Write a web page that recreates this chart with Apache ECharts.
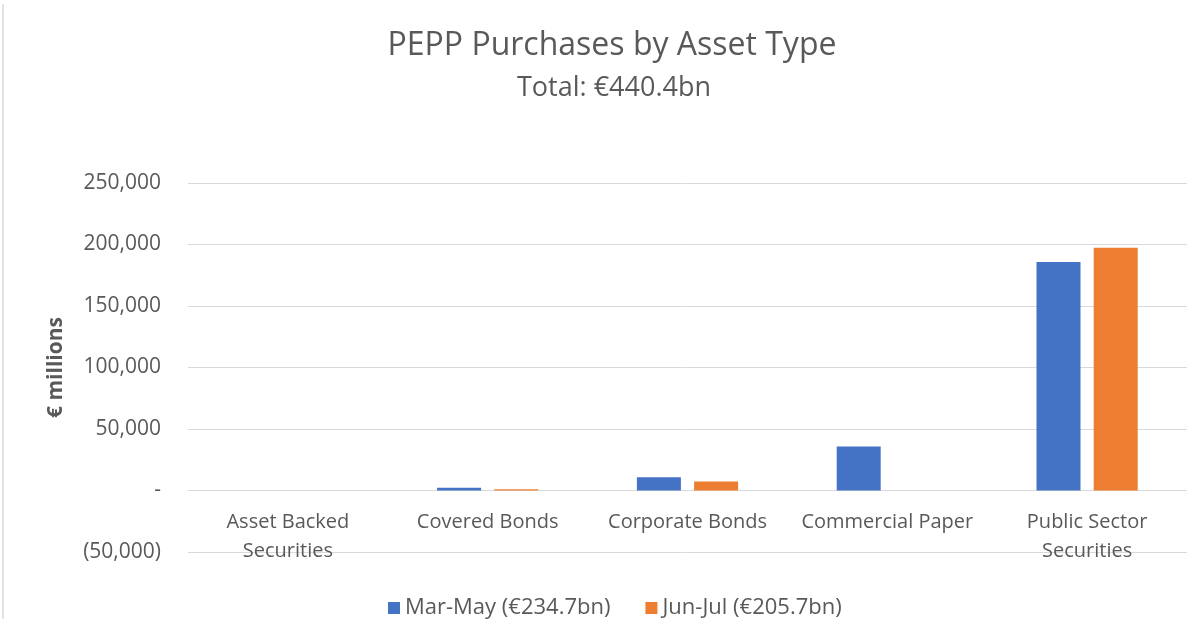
<!DOCTYPE html>
<html>
<head>
<meta charset="utf-8">
<script src="https://cdn.jsdelivr.net/npm/echarts@6/dist/echarts.min.js"></script>
<style>
  html, body { margin: 0; padding: 0; background: #fff; }
  #main { width: 1187px; height: 619px; }
  #edge { position: absolute; left: 2px; top: 4px; width: 2px; height: 615px; background: #e3e3e3; }
</style>
</head>
<body>
<div id="edge"></div>
<div id="main"></div>
<script>
// categories and values (€ millions)
var categories = ['Asset Backed\nSecurities', 'Covered Bonds', 'Corporate Bonds', 'Commercial Paper', 'Public Sector\nSecurities'];
var marMay = [0, 2200, 10800, 35700, 185800];
var junJul = [0, 1100, 7300, 0, 197300];
var seriesNames = ['Mar-May (€234.7bn)', 'Jun-Jul (€205.7bn)'];

var textColor = '#595959';
var font = 'Open Sans';

var myChart = echarts.init(document.getElementById('main'));

function fmt(v) {
  if (v === 0) return '-';
  var s = Math.abs(v).toLocaleString('en-US');
  return v < 0 ? '(' + s + ')' : s;
}

myChart.setOption({
  animation: false,
  title: [
    {
      text: 'PEPP Purchases by Asset Type',
      left: 607,
      top: 25,
      textAlign: 'center',
      textStyle: { fontFamily: font, fontSize: 32, fontWeight: 'normal', color: textColor }
    },
    {
      text: 'Total: €440.4bn',
      left: 609,
      top: 70,
      textAlign: 'center',
      textStyle: { fontFamily: font, fontSize: 27, fontWeight: 'normal', color: textColor }
    }
  ],
  legend: {
    top: 592,
    left: 383,
    itemWidth: 12,
    itemHeight: 12,
    itemGap: 35,
    icon: 'rect',
    textStyle: { fontFamily: font, fontSize: 22, color: textColor }
  },
  grid: { left: 188, right: 0, top: 183, bottom: 67, outerBoundsMode: 'none', containLabel: false },
  xAxis: {
    type: 'category',
    data: categories,
    axisLine: { onZero: true, lineStyle: { color: '#d9d9d9' } },
    axisTick: { show: false },
    // labels sit just under the zero line, like the original
    axisLabel: { fontFamily: font, fontSize: 20, color: textColor, margin: -44, lineHeight: 29, interval: 0 }
  },
  yAxis: {
    type: 'value',
    min: -50000,
    max: 250000,
    interval: 50000,
    name: '€ millions',
    nameLocation: 'middle',
    nameGap: 121,
    nameTextStyle: { fontFamily: font, fontSize: 21, fontWeight: 'bold', color: textColor },
    axisLabel: { fontFamily: font, fontSize: 21, color: textColor, margin: 27, formatter: fmt },
    splitLine: { lineStyle: { color: '#d9d9d9', width: 1 } }
  },
  series: [
    {
      name: seriesNames[0],
      type: 'bar',
      data: marMay,
      barWidth: 44,
      barGap: '30%',
      itemStyle: { color: '#4472C4' }
    },
    {
      name: seriesNames[1],
      type: 'bar',
      data: junJul,
      barWidth: 44,
      itemStyle: { color: '#ED7D31' }
    }
  ]
});
</script>
</body>
</html>
